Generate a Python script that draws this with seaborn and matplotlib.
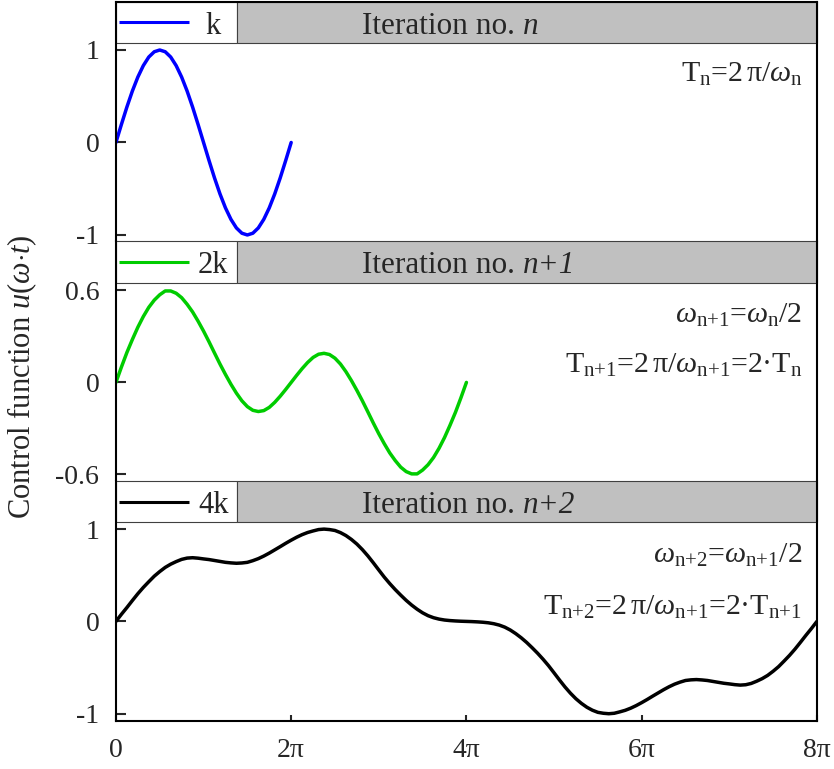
import numpy as np
import matplotlib
matplotlib.use("Agg")
import matplotlib.pyplot as plt
import seaborn as sns
from matplotlib.patches import Rectangle

# ---------- data (x in multiples of pi) ----------
x_k = np.arange(33) / 16          # 0 .. 2pi
u_k = [0, 0.195, 0.383, 0.556, 0.707, 0.831, 0.924, 0.981, 1.0, 0.981, 0.924,
       0.831, 0.707, 0.556, 0.383, 0.195, 0, -0.195, -0.383, -0.556, -0.707,
       -0.831, -0.924, -0.981, -1.0, -0.981, -0.924, -0.831, -0.707, -0.556,
       -0.383, -0.195, 0]

x_2k = np.arange(65) / 16         # 0 .. 4pi
u_2k = [0, 0.1, 0.195, 0.28, 0.36, 0.43, 0.49, 0.537, 0.572, 0.597, 0.597,
        0.582, 0.553, 0.51, 0.46, 0.40, 0.335, 0.265, 0.192, 0.12, 0.052,
        -0.012, -0.07, -0.12, -0.158, -0.182, -0.19, -0.184, -0.163, -0.13,
        -0.09, -0.046, 0,
        0.046, 0.09, 0.13, 0.163, 0.184, 0.19, 0.182, 0.158, 0.12, 0.07, 0.012,
        -0.052, -0.12, -0.192, -0.265, -0.335, -0.40, -0.46, -0.51, -0.553,
        -0.582, -0.597, -0.597, -0.572, -0.537, -0.49, -0.43, -0.36, -0.28,
        -0.195, -0.1, 0]

x_4k = np.arange(129) / 16        # 0 .. 8pi
u_4k = [0, 0.077, 0.15, 0.226, 0.30, 0.368, 0.43, 0.49, 0.54, 0.585, 0.62,
        0.648, 0.672, 0.686, 0.69, 0.685, 0.677, 0.67, 0.66, 0.65, 0.64, 0.634,
        0.63, 0.633, 0.64, 0.658, 0.68, 0.708, 0.74, 0.775, 0.81, 0.846, 0.88,
        0.912, 0.94, 0.963, 0.98, 0.995, 1.0, 0.995, 0.985, 0.962, 0.93, 0.888,
        0.838, 0.778, 0.71, 0.635, 0.557, 0.48, 0.41, 0.345, 0.285, 0.228,
        0.177, 0.132, 0.093, 0.062, 0.04, 0.025, 0.015, 0.009, 0.005, 0.002, 0,
        -0.002, -0.005, -0.009, -0.015, -0.025, -0.04, -0.062, -0.093, -0.132,
        -0.177, -0.228, -0.285, -0.345, -0.41, -0.48, -0.557, -0.635, -0.71,
        -0.778, -0.838, -0.888, -0.93, -0.962, -0.985, -0.995, -1.0, -0.995,
        -0.98, -0.963, -0.94, -0.912, -0.88, -0.846, -0.81, -0.775, -0.74,
        -0.708, -0.68, -0.658, -0.64, -0.633, -0.63, -0.634, -0.64, -0.65,
        -0.66, -0.67, -0.677, -0.685, -0.69, -0.686, -0.672, -0.648, -0.62,
        -0.585, -0.54, -0.49, -0.43, -0.368, -0.30, -0.226, -0.15, -0.077, 0]

legend_labels = ["k", "2k", "4k"]
iterations = ["n", "n+1", "n+2"]
colors = ["#0000ff", "#00cc00", "#000000"]
notes = [
    [r"$\mathrm{T_n}$=2$\,$π/$\omega_\mathrm{n}$"],
    [r"$\omega_\mathrm{n{+}1}$=$\omega_\mathrm{n}$/2",
     r"$\mathrm{T_{n{+}1}}$=2$\,$π/$\omega_\mathrm{n{+}1}$=2·$\mathrm{T_n}$"],
    [r"$\omega_\mathrm{n{+}2}$=$\omega_\mathrm{n{+}1}$/2",
     r"$\mathrm{T_{n{+}2}}$=2$\,$π/$\omega_\mathrm{n{+}1}$=2·$\mathrm{T_{n{+}1}}$"],
]
yticks = [[-1, 0, 1], [-0.6, 0, 0.6], [-1, 0, 1]]
yticklabels = [["-1", "0", "1"], ["-0.6", "0", "0.6"], ["-1", "0", "1"]]
xticks = [0, 2, 4, 6, 8]
xticklabels = ["0", "2π", "4π", "6π", "8π"]

# ---------- style ----------
sns.set_style("ticks")
plt.rcParams["font.family"] = ["Liberation Serif", "DejaVu Serif"]
plt.rcParams["mathtext.fontset"] = "custom"
plt.rcParams["mathtext.rm"] = "Liberation Serif"
plt.rcParams["mathtext.it"] = "Liberation Serif:italic"
plt.rcParams["mathtext.bf"] = "Liberation Serif:bold"
plt.rcParams["path.simplify"] = False

fig = plt.figure(figsize=(8.34, 7.69), dpi=100)

# axes rect, ylim, header bottom, note baselines
panels = [
    dict(rect=[0.139, 0.687, 0.8405, 0.3104], ylim=(-1.062, 1.519), hb=1.076,
         note_y=[0.656]),
    dict(rect=[0.139, 0.3758, 0.8405, 0.3102], ylim=(-0.637, 0.92), hb=0.652,
         note_y=[0.388, 0.061]),
    dict(rect=[0.139, 0.0624, 0.8405, 0.3115], ylim=(-1.079, 1.516), hb=1.076,
         note_y=[0.637, 0.073]),
]
series = [(x_k, u_k), (x_2k, u_2k), (x_4k, u_4k)]

for i, p in enumerate(panels):
    ax = fig.add_axes(p["rect"])
    xs, us = series[i]
    sns.lineplot(x=xs, y=us, ax=ax, color=colors[i], lw=2.5, legend=False)
    ax.set_xlim(0, 8)
    ax.set_ylim(*p["ylim"])
    ax.set_yticks(yticks[i])
    ax.set_yticklabels(yticklabels[i])
    ax.tick_params(axis="y", direction="in", length=7, width=1.5, pad=12,
                   labelsize=20, right=False)
    if i < 2:
        ax.tick_params(axis="x", bottom=False, labelbottom=False)
        ax.spines["bottom"].set_visible(False)
    else:
        ax.set_xticks(xticks)
        ax.set_xticklabels(xticklabels)
        ax.tick_params(axis="x", direction="in", length=4, width=1.5, pad=12,
                       labelsize=20, top=False)
    ax.spines["top"].set_visible(i == 0)
    for s in ax.spines.values():
        s.set_linewidth(1.5)
        s.set_color("black")
    ax.set_xlabel("")
    ax.set_ylabel("")

    # header strip: legend box + iteration title
    top = p["ylim"][1]
    hb = p["hb"]
    tr = ax.get_yaxis_transform()
    ax.add_patch(Rectangle((0, hb), 0.1726, top - hb, transform=tr,
                           fc="white", ec="#404040", lw=0.8, clip_on=False))
    ax.add_patch(Rectangle((0.1726, hb), 0.8274, top - hb, transform=tr,
                           fc="#c0c0c0", ec="#404040", lw=0.8, clip_on=False))
    hc = (hb + top) / 2
    base = hb + 0.23 * (top - hb)
    ax.plot([0.005, 0.104], [hc, hc], transform=tr, color=colors[i], lw=2.2,
            clip_on=False, solid_capstyle="butt")
    ax.text(0.139, base, legend_labels[i], transform=tr, ha="center",
            va="baseline", fontsize=22)
    t1 = ax.text(0.351, base, "Iteration no. ", transform=tr, ha="left",
                 va="baseline", fontsize=22.5)
    ax.annotate(iterations[i], xy=(1, 0), xycoords=t1, ha="left",
                va="bottom", fontsize=22.5, style="italic")

    for note, ny in zip(notes[i], p["note_y"]):
        ax.text(0.979, ny, note, transform=tr, ha="right", va="baseline",
                fontsize=21.5)

fig.text(22 / 834, 1 - 377 / 769, r"Control function $u(\omega{\cdot}t)$",
         rotation=90, ha="center", va="center", fontsize=22)

fig.savefig("out.png", dpi=100)
